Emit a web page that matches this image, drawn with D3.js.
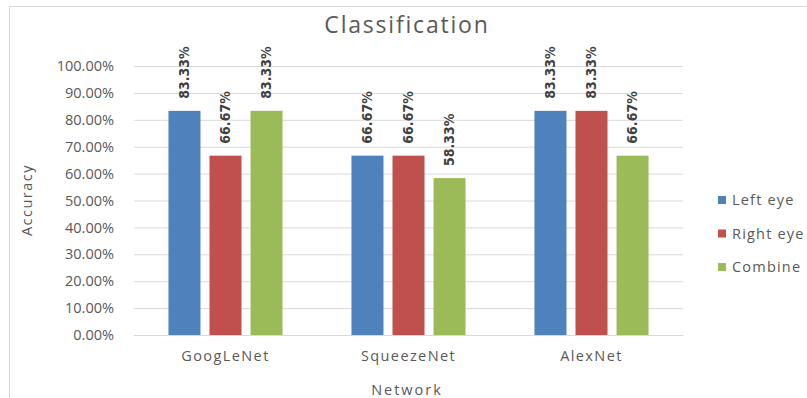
<!DOCTYPE html>
<html>
<head>
<meta charset="utf-8">
<script src="https://cdn.jsdelivr.net/npm/d3@7"></script>
<style>
  html, body { margin: 0; padding: 0; background: #fff; }
  svg { display: block; }
  text { font-family: "Open Sans", "Noto Sans", sans-serif; }
</style>
</head>
<body>
<svg id="chart" width="807" height="398"></svg>
<script>
// Networks compared and per-eye classification accuracy
const networks = ["GoogLeNet", "SqueezeNet", "AlexNet"];
const seriesNames = ["Left eye", "Right eye", "Combine"];
const leftEye = [0.8333, 0.6667, 0.8333];
const rightEye = [0.6667, 0.6667, 0.8333];
const combined = [0.8333, 0.5833, 0.6667];
const seriesColors = ["#4F81BD", "#C0504D", "#9BBB59"];
const yTicks = [0, 0.1, 0.2, 0.3, 0.4, 0.5, 0.6, 0.7, 0.8, 0.9, 1.0];

const seriesValues = [leftEye, rightEye, combined];
const svg = d3.select("#chart");
const W = 807, H = 398;
const plot = { left: 134, right: 683, top: 66, bottom: 335 };

// chart frame (only top and left edges fall inside the window)
svg.append("path")
  .attr("d", `M9.5,${H} V6.5 H${W}`)
  .attr("fill", "none")
  .attr("stroke", "#D9D9D9")
  .attr("stroke-width", 1);

const x0 = d3.scaleBand().domain(networks).range([plot.left, plot.right]).paddingInner(0).paddingOuter(0);
const x1 = d3.scaleBand().domain(seriesNames).range([0, x0.bandwidth()]).paddingInner(0.22).paddingOuter(0.84);
const y = d3.scaleLinear().domain([0, 1]).range([plot.bottom, plot.top]);

// gridlines + y tick labels
const yAxis = d3.axisLeft(y)
  .tickValues(yTicks)
  .tickSize(-(plot.right - plot.left))
  .tickPadding(20)
  .tickFormat(d => (d * 100).toFixed(2) + "%");
const gy = svg.append("g").attr("transform", `translate(${plot.left},0)`).call(yAxis);
gy.select(".domain").remove();
gy.selectAll(".tick line").attr("stroke", "#D9D9D9").attr("stroke-width", 1);
gy.selectAll(".tick text")
  .attr("fill", "#595959")
  .style("font-size", "14.5px")
  .style("font-family", "'Open Sans', sans-serif");

// x axis: baseline + category labels
const xAxis = d3.axisBottom(x0).tickSize(0).tickPadding(16);
const gx = svg.append("g").attr("transform", `translate(0,${plot.bottom})`).call(xAxis);
gx.select(".domain").attr("stroke", "#D9D9D9");
gx.selectAll(".tick text")
  .attr("fill", "#595959")
  .style("font-size", "14.5px")
  .style("letter-spacing", "1.4px");

// bars
const groups = svg.append("g").selectAll("g")
  .data(networks)
  .join("g")
  .attr("transform", d => `translate(${x0(d)},0)`);

const rows = (d, i) => seriesNames.map((s, k) => ({ series: s, k, value: seriesValues[k][i] }));

groups.selectAll("rect")
  .data(rows)
  .join("rect")
  .attr("x", d => x1(d.series))
  .attr("width", x1.bandwidth())
  .attr("y", d => y(d.value))
  .attr("height", d => y(0) - y(d.value))
  .attr("fill", d => seriesColors[d.k]);

// rotated value labels above each bar
groups.selectAll("text.val")
  .data(rows)
  .join("text")
  .attr("class", "val")
  .attr("transform", d => `translate(${x1(d.series) + x1.bandwidth() / 2},${y(d.value) - 12}) rotate(-90)`)
  .attr("dy", "0.35em")
  .attr("text-anchor", "start")
  .attr("fill", "#404040")
  .style("font-size", "14px")
  .style("font-weight", "bold")
  .style("font-family", "'DejaVu Sans Condensed', 'DejaVu Sans', sans-serif")
  .text(d => (d.value * 100).toFixed(2) + "%");

// title
svg.append("text")
  .attr("x", 407).attr("y", 33)
  .attr("text-anchor", "middle")
  .attr("fill", "#595959")
  .style("font-size", "23px")
  .style("letter-spacing", "1.8px")
  .text("Classification");

// axis titles
svg.append("text")
  .attr("transform", "translate(32,200) rotate(-90)")
  .attr("text-anchor", "middle")
  .attr("fill", "#595959")
  .style("font-size", "14.5px")
  .style("letter-spacing", "1.5px")
  .text("Accuracy");

svg.append("text")
  .attr("x", 407).attr("y", 395)
  .attr("text-anchor", "middle")
  .attr("fill", "#595959")
  .style("font-size", "14.5px")
  .style("letter-spacing", "2px")
  .text("Network");

// legend
const legend = svg.append("g").selectAll("g")
  .data(seriesNames)
  .join("g")
  .attr("transform", (d, i) => `translate(718,${200 + i * 33.5})`);
legend.append("rect")
  .attr("x", 0).attr("y", -4).attr("width", 8).attr("height", 8)
  .attr("fill", (d, i) => seriesColors[i]);
legend.append("text")
  .attr("x", 14).attr("y", 0).attr("dy", "0.35em")
  .attr("fill", "#595959")
  .style("font-size", "14.5px")
  .style("letter-spacing", "1.2px")
  .text(d => d);
</script>
</body>
</html>
